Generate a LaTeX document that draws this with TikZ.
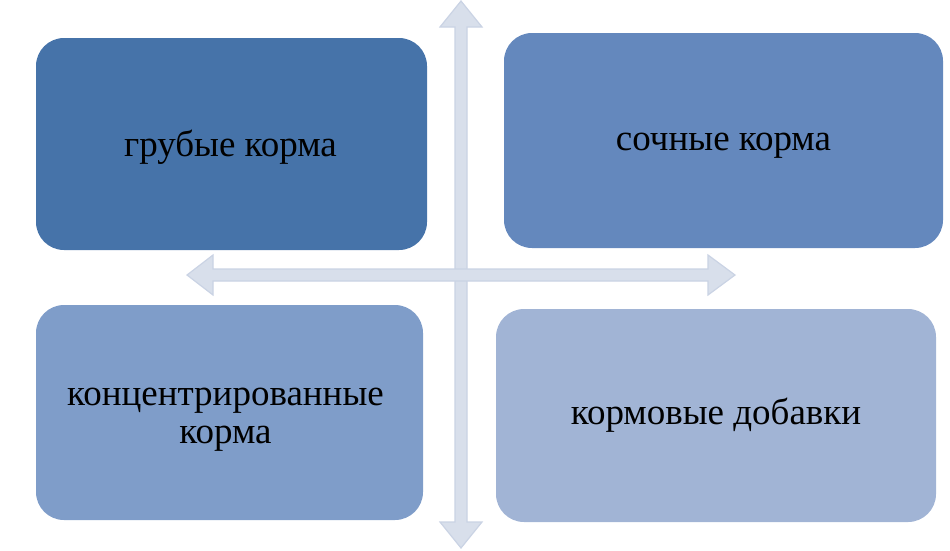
\documentclass[tikz,border=0pt]{standalone}
\usepackage{fontspec}
\setmainfont{Liberation Serif}
\definecolor{bA}{HTML}{4673A9}
\definecolor{bB}{HTML}{6488BD}
\definecolor{bC}{HTML}{7F9DC9}
\definecolor{bD}{HTML}{A1B4D5}
\definecolor{arF}{HTML}{D8DFEB}
\definecolor{arD}{HTML}{CAD3E4}
\begin{document}
\begin{tikzpicture}[x=1pt,y=-1pt,
  box/.style={rounded corners=28pt, inner sep=0pt},
  boxtext/.style={inner sep=0pt, align=center,
    font=\fontsize{37}{38}\selectfont, text=black},
  axis/.style={fill=arF, draw=arD, line width=1.2pt, line join=miter}]
\useasboundingbox (0,0) rectangle (950,550);
% axes
\draw[axis] (455,27) -- (440,27) -- (461,1) -- (482,27) -- (467,27)
  -- (467,522) -- (482,522) -- (461,548) -- (440,522) -- (455,522) -- cycle;
\draw[axis] (213,269) -- (213,255) -- (187,275) -- (213,295) -- (213,281)
  -- (708,281) -- (708,295) -- (735,275) -- (708,255) -- (708,269) -- cycle;
\fill[arF] (456,270) rectangle (466,280);
% boxes
\node[box, fill=bA, minimum width=391pt, minimum height=212pt] (grub) at (231.5,144) {};
\node[box, fill=bB, minimum width=439pt, minimum height=215pt] (soch) at (723.5,140.5) {};
\node[box, fill=bC, minimum width=387pt, minimum height=215pt] (konc) at (229.5,412.5) {};
\node[box, fill=bD, minimum width=440pt, minimum height=213pt] (dob) at (716,415.5) {};
% texts
\node[boxtext] (grubT) at ([shift={(-1,3)}]grub.center) {грубые корма};
\node[boxtext] (sochT) at ([shift={(0,5)}]soch.center) {сочные корма};
\node[boxtext] (koncT) at ([shift={(-4,7)}]konc.center) {концентрированные\\корма};
\node[boxtext] (dobT) at (dob.center) {кормовые добавки};
\end{tikzpicture}
\end{document}
